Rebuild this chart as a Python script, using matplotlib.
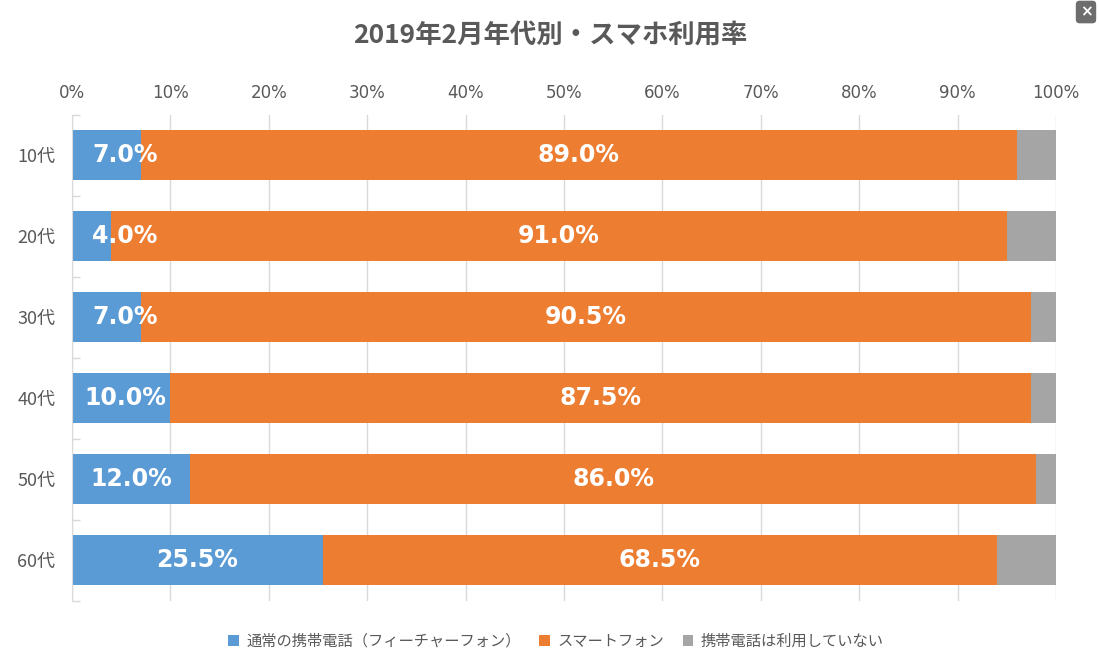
import matplotlib
matplotlib.use("Agg")
import matplotlib.pyplot as plt
import numpy as np
from matplotlib.patches import Patch

plt.rcParams["font.family"] = ["DejaVu Sans", "Noto Sans CJK JP"]

# data
ages = ["10代", "20代", "30代", "40代", "50代", "60代"]
feature_phone = [7.0, 4.0, 7.0, 10.0, 12.0, 25.5]
smartphone = [89.0, 91.0, 90.5, 87.5, 86.0, 68.5]
no_phone = [4.0, 5.0, 2.5, 2.5, 2.0, 6.0]
series_names = ["通常の携帯電話（フィーチャーフォン）", "スマートフォン", "携帯電話は利用していない"]
colors = ["#5B9BD5", "#ED7D31", "#A5A5A5"]
title = "2019年2月年代別・スマホ利用率"

TEXT = "#595959"
GRID = "#D9D9D9"
CJK = ["Noto Sans CJK JP", "DejaVu Sans"]

fig = plt.figure(figsize=(10.99, 6.66), dpi=100)
ax = fig.add_axes([0.0655, 0.0983, 0.8954, 0.7297])

y = np.arange(len(ages))
left = np.zeros(len(ages))
for vals, col in zip([feature_phone, smartphone, no_phone], colors):
    ax.barh(y, vals, left=left, height=0.617, color=col, zorder=2)
    left += np.array(vals)

# labels on blue and orange segments
for i in range(len(ages)):
    xb = max(feature_phone[i] / 2, 5.4)
    ax.text(xb, y[i], f"{feature_phone[i]:.1f}%", ha="center", va="center",
            color="white", fontsize=17, fontweight="bold", zorder=3)
    xo = feature_phone[i] + smartphone[i] / 2
    ax.text(xo, y[i], f"{smartphone[i]:.1f}%", ha="center", va="center",
            color="white", fontsize=17, fontweight="bold", zorder=3)

ax.set_xlim(0, 100)
ax.set_ylim(len(ages) - 0.5, -0.5)
ax.set_xticks(np.arange(0, 101, 10))
ax.set_xticklabels([f"{v}%" for v in range(0, 101, 10)])
ax.xaxis.tick_top()
ax.tick_params(axis="x", length=0, pad=9, labelsize=12, labelcolor=TEXT)
ax.set_yticks(y)
ax.set_yticklabels(ages, family=CJK)
ax.tick_params(axis="y", which="major", length=0, pad=12, labelsize=13, labelcolor=TEXT)
ax.set_yticks(np.arange(-0.5, len(ages), 1), minor=True)
ax.tick_params(axis="y", which="minor", direction="in", length=6, color=GRID, width=1)

ax.xaxis.grid(True, color=GRID, lw=1, zorder=0)
ax.set_axisbelow(True)
for s in ["top", "right", "bottom"]:
    ax.spines[s].set_visible(False)
ax.spines["left"].set_color(GRID)

fig.text(0.501, 1 - 36 / 666, title, ha="center", va="center", fontsize=19,
         fontweight="bold", color=TEXT, family=CJK)

handles = [Patch(facecolor=c, edgecolor="none") for c in colors]
fig.legend(handles, series_names, loc="center", bbox_to_anchor=(0.506, 1 - 641 / 666),
           ncol=3, frameon=False, handlelength=0.7, handleheight=0.7,
           handletextpad=0.5, columnspacing=1.2,
           prop={"family": CJK, "size": 11}, labelcolor=TEXT)

# close button
fig.text(1086 / 1099, 1 - 12 / 666, "×", ha="center", va="center", color="white",
         fontsize=11, fontweight="bold",
         bbox=dict(boxstyle="round,pad=0.25", fc="#6d6d6d", ec="none"))

fig.savefig("out.png", dpi=100)
